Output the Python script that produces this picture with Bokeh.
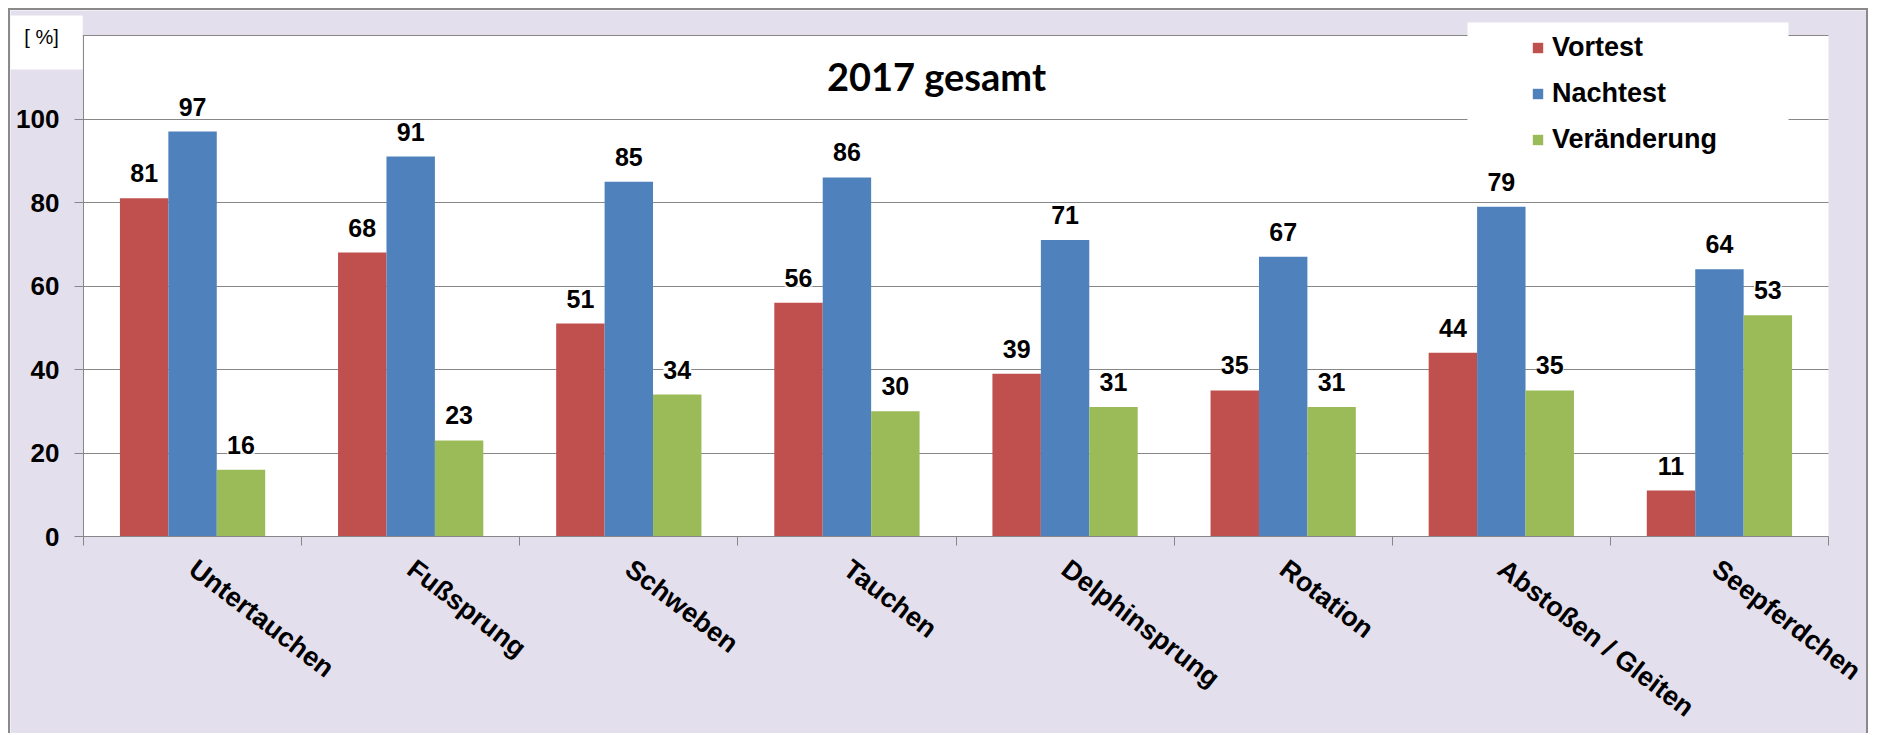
import math
from bokeh.plotting import figure
from bokeh.models import (Range1d, FixedTicker, ColumnDataSource, LabelSet, Label,
                          Legend, LegendItem, BoxAnnotation, Grid)
from bokeh.core.properties import value
from bokeh.embed import file_html
from bokeh.resources import INLINE

categories = ["Untertauchen", "Fußsprung", "Schweben", "Tauchen", "Delphinsprung",
              "Rotation", "Abstoßen / Gleiten", "Seepferdchen"]
vortest = [81, 68, 51, 56, 39, 35, 44, 11]
nachtest = [97, 91, 85, 86, 71, 67, 79, 64]
veraenderung = [16, 23, 34, 30, 31, 31, 35, 53]
series_names = ["Vortest", "Nachtest", "Veränderung"]
y_ticks = [0, 20, 40, 60, 80, 100, 120]
title_text = "2017 gesamt"
unit_text = "[ %]"

colors = ["#C0504D", "#4F81BD", "#9BBB59"]
LAVENDER = "#E4DFEC"
GRID = "#878787"
FONT = "Liberation Sans"

n = len(categories)
YMAX = 120

# pixel layout of the canvas (1860 x 725); the plot area spans 73..1818 x 25..526
W, H = 1860, 725
PL, PR, PT, PB = 73, 42, 25, 199
pxu_x = (W - PL - PR) / n
pxu_y = (H - PT - PB) / YMAX

def dx(px):  # canvas px -> data x
    return (px - PL) / pxu_x

def dy(py):  # canvas px (from top) -> data y
    return (H - PB - py) / pxu_y

p = figure(width=W, height=H, output_backend="svg", toolbar_location=None,
           x_range=Range1d(dx(0), dx(W)), y_range=Range1d(dy(H), dy(0)),
           min_border=0, min_border_left=0, min_border_right=0,
           min_border_top=0, min_border_bottom=0,
           border_fill_color=LAVENDER, background_fill_color=LAVENDER,
           outline_line_color=None)
p.title.visible = False
p.styles = {"margin-left": "8px", "margin-top": "8px",
            "border-left": "2px solid #8A8A8A", "border-top": "2px solid #8A8A8A",
            "border-right": "2px solid #8A8A8A"}

# white plot area
p.add_layout(BoxAnnotation(left=0, right=n, bottom=0, top=YMAX, level="image",
                           fill_color="white", fill_alpha=1, line_color=None))

# grid lines limited to the plot area
p.xgrid.visible = False
if "cross_bounds" in Grid.properties():
    p.ygrid.ticker = FixedTicker(ticks=y_ticks)
    p.ygrid.grid_line_color = GRID
    p.ygrid.cross_bounds = (0, n)
else:
    p.ygrid.visible = False
    p.segment(x0=[0] * len(y_ticks), x1=[n] * len(y_ticks), y0=y_ticks, y1=y_ticks,
              line_color=GRID, line_width=1, level="underlay")

bw = 0.222
offsets = [-bw, 0.0, bw]
renderers = []
for vals, off, col, name in zip([vortest, nachtest, veraenderung], offsets, colors, series_names):
    src = ColumnDataSource(dict(x=[i + 0.5 + off for i in range(n)], top=vals,
                                label=[str(v) for v in vals]))
    r = p.vbar(x="x", top="top", width=bw, source=src, fill_color=col, line_color=None)
    renderers.append(r)
    p.add_layout(LabelSet(x="x", y="top", text="label", source=src, y_offset=16,
                          text_align="center", text_baseline="alphabetic",
                          text_font=value(FONT), text_font_style="bold", text_font_size="25px",
                          text_color="black", background_fill_color="white"))

# y axis
yax = p.yaxis[0]
yax.fixed_location = 0
yax.bounds = (0, YMAX)
yax.ticker = FixedTicker(ticks=y_ticks)
yax.major_label_overrides = {YMAX: ""}
yax.axis_line_color = GRID
yax.major_tick_line_color = GRID
yax.major_tick_out = 9
yax.major_tick_in = 0
yax.minor_tick_line_color = None
yax.major_label_text_font = FONT
yax.major_label_text_font_style = "bold"
yax.major_label_text_font_size = "26px"
yax.major_label_text_color = "black"
yax.major_label_standoff = 15

# x axis
xax = p.xaxis[0]
xax.fixed_location = 0
xax.bounds = (0, n)
xax.ticker = FixedTicker(ticks=[i + 0.5 for i in range(n)], minor_ticks=list(range(n + 1)))
xax.major_label_overrides = {i + 0.5: c for i, c in enumerate(categories)}
xax.axis_line_color = GRID
xax.major_tick_line_color = None
xax.major_tick_out = 0
xax.major_tick_in = 0
xax.minor_tick_line_color = GRID
xax.minor_tick_out = 9
xax.minor_tick_in = 0
xax.major_label_orientation = -math.radians(37.5)
xax.major_label_standoff = 20
xax.major_label_text_font = FONT
xax.major_label_text_font_style = "bold"
xax.major_label_text_font_size = "27px"
xax.major_label_text_color = "black"

# title
p.add_layout(Label(x=dx(926), y=dy(65), text=title_text, text_align="center",
                   text_baseline="middle", text_font="Lato", text_font_style="bold",
                   text_font_size="38px", text_color="black"))

# unit label box
p.add_layout(Label(x=dx(34.5), y=dy(32), text=unit_text, text_align="center",
                   text_baseline="middle", text_font=FONT, text_font_size="20px",
                   text_color="black", background_fill_color="white",
                   padding=dict(left=17, right=24, top=10, bottom=22)))

# legend white box
p.add_layout(BoxAnnotation(left=dx(1457), right=dx(1778), top=dy(12), bottom=dy(150),
                           fill_color="white", fill_alpha=1, line_color=None))

legend = Legend(items=[LegendItem(label=nm, renderers=[r]) for nm, r in zip(series_names, renderers)],
                location=(1521, 580), orientation="vertical", padding=10, spacing=15,
                glyph_width=13, glyph_height=13, label_height=26, label_standoff=8,
                label_text_font=FONT, label_text_font_style="bold", label_text_font_size="27px",
                label_text_color="black",
                background_fill_color="white", background_fill_alpha=1,
                border_line_color=None, margin=0)
p.add_layout(legend)

open("out.html", "w").write(file_html(p, INLINE))
